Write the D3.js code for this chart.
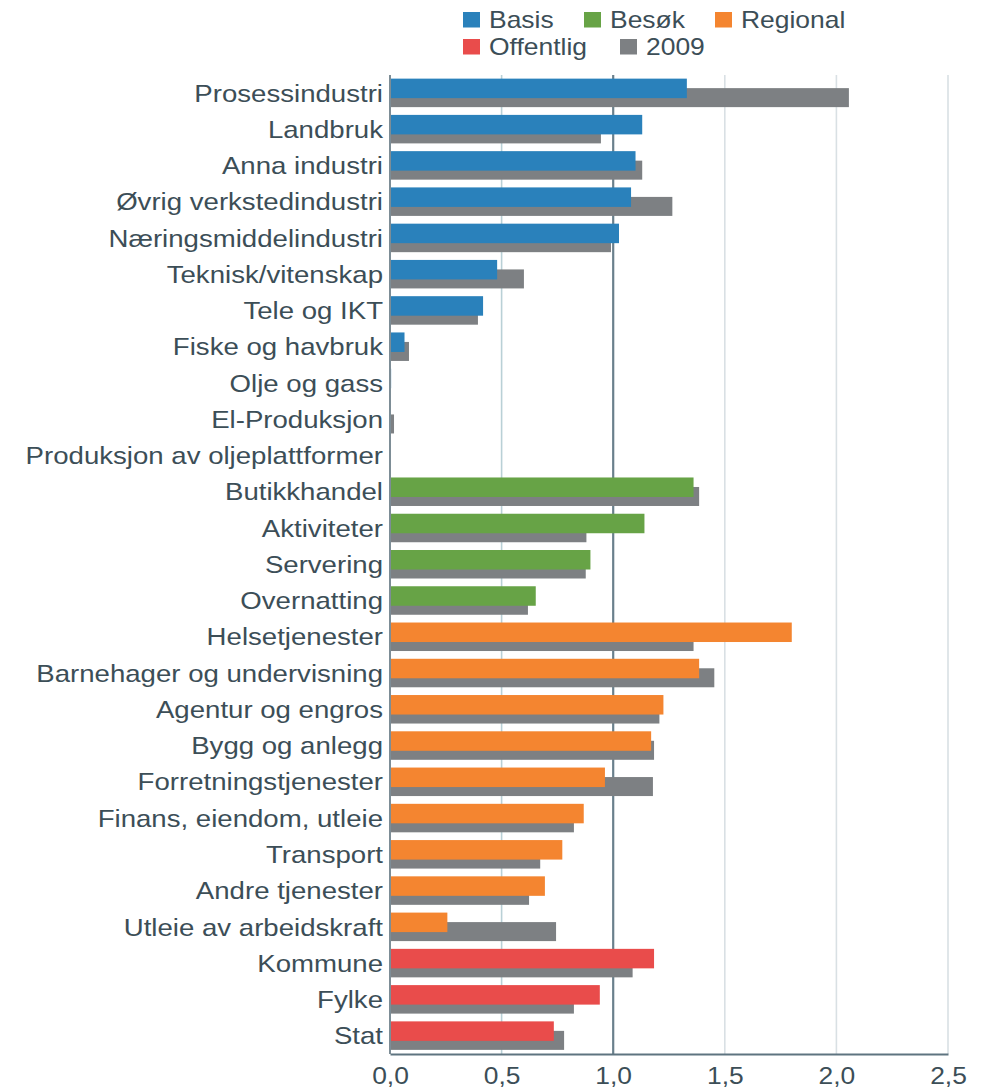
<!DOCTYPE html>
<html>
<head>
<meta charset="utf-8">
<script src="https://cdn.jsdelivr.net/npm/d3@7"></script>
<style>
  body { margin: 0; background: #fff; }
  svg { display: block; font-family: "Liberation Sans", Arial, sans-serif; }
</style>
</head>
<body>
<div id="chart"></div>
<script>
const categories = [
  'Prosessindustri', 'Landbruk', 'Anna industri', 'Øvrig verkstedindustri',
  'Næringsmiddelindustri', 'Teknisk/vitenskap', 'Tele og IKT', 'Fiske og havbruk',
  'Olje og gass', 'El-Produksjon', 'Produksjon av oljeplattformer',
  'Butikkhandel', 'Aktiviteter', 'Servering', 'Overnatting',
  'Helsetjenester', 'Barnehager og undervisning', 'Agentur og engros', 'Bygg og anlegg',
  'Forretningstjenester', 'Finans, eiendom, utleie', 'Transport', 'Andre tjenester',
  'Utleie av arbeidskraft', 'Kommune', 'Fylke', 'Stat'
];
// which group each category belongs to
const groups = [
  'Basis', 'Basis', 'Basis', 'Basis', 'Basis', 'Basis', 'Basis', 'Basis', 'Basis', 'Basis', 'Basis',
  'Besøk', 'Besøk', 'Besøk', 'Besøk',
  'Regional', 'Regional', 'Regional', 'Regional', 'Regional', 'Regional', 'Regional', 'Regional', 'Regional',
  'Offentlig', 'Offentlig', 'Offentlig'
];
const current = [
  1.33, 1.13, 1.10, 1.08, 1.026, 0.48, 0.417, 0.065, 0.005, 0, 0,
  1.36, 1.14, 0.898, 0.653,
  1.80, 1.385, 1.225, 1.17, 0.963, 0.868, 0.772, 0.694, 0.257,
  1.183, 0.94, 0.734
];
const values2009 = [
  2.056, 0.945, 1.13, 1.265, 0.99, 0.60, 0.394, 0.085, 0, 0.018, 0,
  1.385, 0.88, 0.877, 0.618,
  1.36, 1.453, 1.207, 1.183, 1.178, 0.824, 0.673, 0.623, 0.744,
  1.087, 0.824, 0.78
];
const legendNames = ['Basis', 'Besøk', 'Regional', 'Offentlig', '2009'];
const legendColors = ['#2a81bb', '#67a346', '#f48530', '#e94c4b', '#7d8083'];
const xTicks = [0, 0.5, 1, 1.5, 2, 2.5];

const width = 984, height = 1089;
const margin = { top: 75, right: 36, bottom: 35, left: 390 };
const textColor = '#3c4e57';
const stretch = 'scale(1.15,1)'; // the original lettering is a bit wide

const data = categories.map((c, i) => ({ name: c, group: groups[i], value: current[i], old: values2009[i] }));
const color = d3.scaleOrdinal().domain(legendNames).range(legendColors);

const svg = d3.select('#chart').append('svg')
  .attr('width', width).attr('height', height);

const x = d3.scaleLinear().domain([0, 2.5]).range([margin.left, width - margin.right]);
const y = d3.scaleBand().domain(categories).range([margin.top, height - margin.bottom]);

// gridlines
svg.append('g')
  .selectAll('line')
  .data(xTicks.filter(d => d > 0))
  .join('line')
  .attr('x1', d => x(d)).attr('x2', d => x(d))
  .attr('y1', margin.top).attr('y2', height - margin.bottom)
  .attr('stroke', d => d === 1 ? '#6a808c' : (d === 0.5 ? '#b9d0d6' : '#d9e0e4'))
  .attr('stroke-width', d => d === 1 ? 2.2 : 1.6);

// bars: 2009 drawn first, current on top
const rows = svg.append('g').selectAll('g').data(data).join('g')
  .attr('transform', d => `translate(0, ${y(d.name) + y.bandwidth() / 2})`);

rows.append('rect')
  .attr('x', x(0))
  .attr('y', -5)
  .attr('height', 19)
  .attr('width', d => x(d.old) - x(0))
  .attr('fill', color('2009'));

rows.append('rect')
  .attr('x', x(0))
  .attr('y', -14.5)
  .attr('height', 19.5)
  .attr('width', d => x(d.value) - x(0))
  .attr('fill', d => color(d.group));

// category labels
rows.append('text')
  .attr('transform', `translate(${margin.left - 7}, 0) ${stretch}`)
  .attr('dy', '0.35em')
  .attr('text-anchor', 'end')
  .attr('fill', textColor)
  .style('font-size', '24px')
  .text(d => d.name);

// left axis line
svg.append('line')
  .attr('x1', x(0)).attr('x2', x(0))
  .attr('y1', margin.top).attr('y2', height - margin.bottom)
  .attr('stroke', '#7d8d96').attr('stroke-width', 2);

// bottom axis
const xAxis = svg.append('g')
  .attr('transform', `translate(0, ${height - margin.bottom})`)
  .call(d3.axisBottom(x).tickValues(xTicks).tickSize(0).tickPadding(13)
    .tickFormat(d => d3.format('.1f')(d).replace('.', ',')));
xAxis.select('.domain').attr('stroke', '#5e7480').attr('stroke-width', 2.2);
xAxis.selectAll('text').attr('fill', textColor).style('font-size', '24px')
  .attr('transform', 'scale(1.1,1)')
  .style('font-family', '"Liberation Sans", Arial, sans-serif');

// legend
const legendPos = [[463, 20], [584, 20], [715, 20], [463, 47], [620, 47]];
const legend = svg.append('g').selectAll('g').data(legendNames).join('g')
  .attr('transform', (d, i) => `translate(${legendPos[i][0]}, ${legendPos[i][1]})`);
legend.append('rect')
  .attr('x', 0).attr('y', -8).attr('width', 17).attr('height', 15.5)
  .attr('fill', d => color(d));
legend.append('text')
  .attr('transform', `translate(26, 0) ${stretch}`)
  .attr('dy', '0.33em')
  .attr('fill', textColor)
  .style('font-size', '23px')
  .text(d => d);
</script>
</body>
</html>
